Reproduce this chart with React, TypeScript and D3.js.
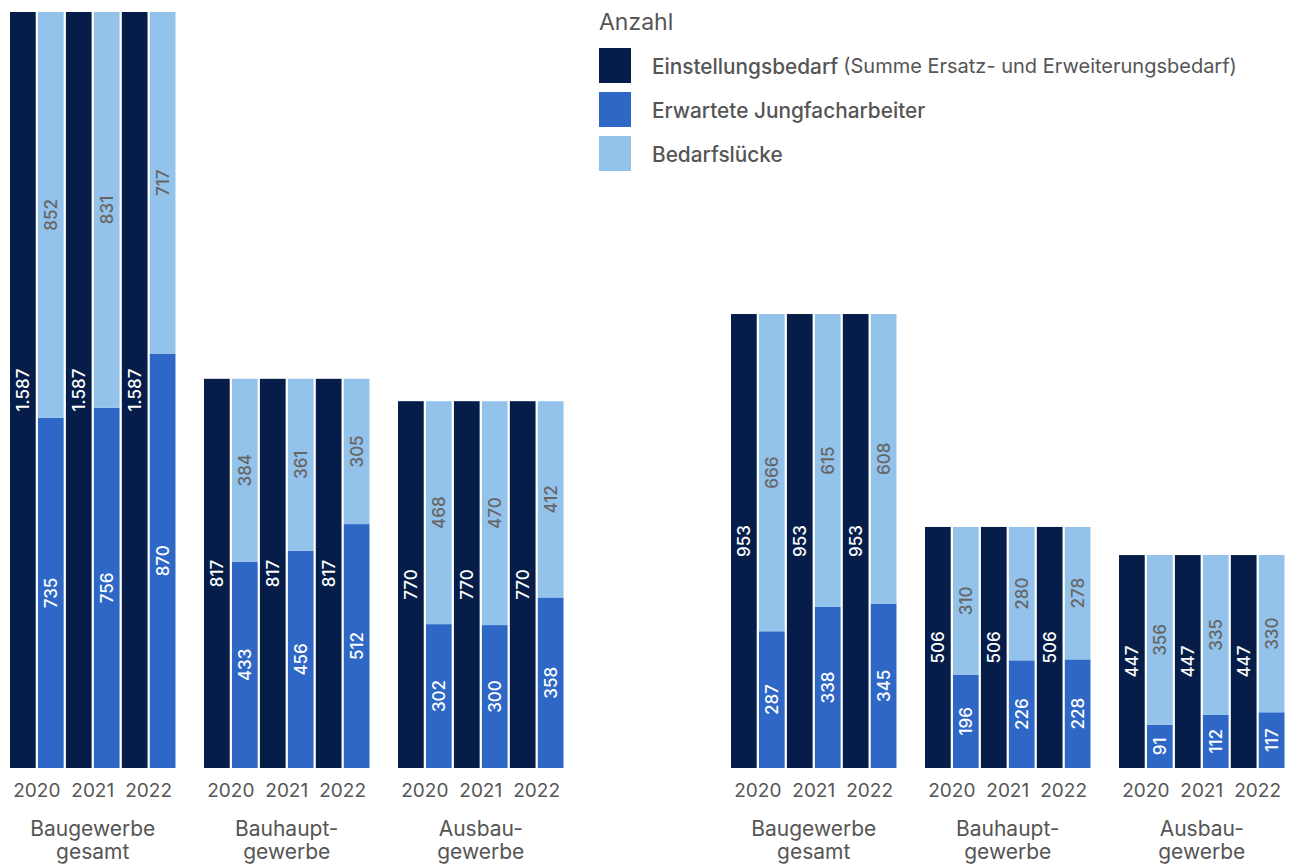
import React from "react";
import * as d3 from "d3";

const years = ["2020", "2021", "2022"];
const groupsLeft = ["Baugewerbe gesamt", "Bauhaupt- gewerbe", "Ausbau- gewerbe"];
const groupsRight = ["Baugewerbe gesamt", "Bauhaupt- gewerbe", "Ausbau- gewerbe"];

// Left panel
const leftBedarf = [[1587, 1587, 1587], [817, 817, 817], [770, 770, 770]];
const leftJung = [[735, 756, 870], [433, 456, 512], [302, 300, 358]];
const leftLuecke = [[852, 831, 717], [384, 361, 305], [468, 470, 412]];
// Right panel
const rightBedarf = [[953, 953, 953], [506, 506, 506], [447, 447, 447]];
const rightJung = [[287, 338, 345], [196, 226, 228], [91, 112, 117]];
const rightLuecke = [[666, 615, 608], [310, 280, 278], [356, 335, 330]];

const legendItems = ["Einstellungsbedarf", "Erwartete Jungfacharbeiter", "Bedarfslücke"];
const legendNote = "(Summe Ersatz- und Erweiterungsbedarf)";
const legendTitle = "Anzahl";

const C_DARK = "#061d49";
const C_MID = "#2e67c5";
const C_LIGHT = "#93c2ea";
const C_TEXT = "#555555";
const FONT = "Inter, 'Noto Sans', sans-serif";

const W = 1293;
const H = 865;

const fmt = d3.formatLocale({ decimal: ",", thousands: ".", grouping: [3], currency: ["", "€"] }).format(",d");

const y = d3.scaleLinear().domain([0, 1587]).range([768, 12]);

function Panel({ x0, groups, bedarf, jung, luecke }: any) {
  const gx = d3.scaleBand<number>().domain([0, 1, 2]).range([x0, x0 + 553.5]).paddingInner(0.147).paddingOuter(0);
  const bx = d3.scaleBand<number>().domain([0, 1, 2, 3, 4, 5]).range([0, gx.bandwidth()]).paddingInner(0.08).paddingOuter(0);
  const bw = bx.bandwidth();
  const lbl = (cx: number, cy: number, t: string, fill: string, key: string) => (
    <text key={key} transform={`translate(${cx},${cy}) rotate(-90)`} textAnchor="middle" dominantBaseline="central"
      fill={fill} fontSize={17} fontWeight={500} fontFamily={FONT}>{t}</text>
  );
  return (
    <g>
      {groups.map((g: string, gi: number) => {
        const gx0 = gx(gi)!;
        const parts = g.split(" ");
        return (
          <g key={gi}>
            {years.map((yr, yi) => {
              const dx = gx0 + bx(yi * 2)!;
              const lx = gx0 + bx(yi * 2 + 1)!;
              const tot = bedarf[gi][yi];
              const j = jung[gi][yi];
              const l = luecke[gi][yi];
              const yTot = y(tot);
              const yJ = y(j);
              const yL = y(j + l);
              return (
                <g key={yi}>
                  <rect x={dx} y={yTot} width={bw} height={y(0) - yTot} fill={C_DARK} />
                  <rect x={lx} y={yJ} width={bw} height={y(0) - yJ} fill={C_MID} />
                  <rect x={lx} y={yL} width={bw} height={yJ - yL} fill={C_LIGHT} />
                  {lbl(dx + bw / 2, (yTot + y(0)) / 2, fmt(tot), "#ffffff", "a")}
                  {lbl(lx + bw / 2, (yJ + y(0)) / 2, fmt(j), "#ffffff", "b")}
                  {lbl(lx + bw / 2, (yL + yJ) / 2, fmt(l), "#666666", "c")}
                  <text x={(dx + lx + bw) / 2} y={797} textAnchor="middle" fill={C_TEXT} fontSize={19}
                    fontWeight={400} fontFamily={FONT}>{yr}</text>
                </g>
              );
            })}
            <text x={gx0 + gx.bandwidth() / 2} y={836} textAnchor="middle" fill={C_TEXT} fontSize={21}
              fontWeight={400} fontFamily={FONT}>
              <tspan x={gx0 + gx.bandwidth() / 2}>{parts[0]}</tspan>
              <tspan x={gx0 + gx.bandwidth() / 2} dy={23}>{parts[1]}</tspan>
            </text>
          </g>
        );
      })}
    </g>
  );
}

export default function App() {
  const colors = [C_DARK, C_MID, C_LIGHT];
  return (
    <svg width={W} height={H} style={{ position: "absolute", left: 0, top: 0, background: "#fff" }}>
      <Panel x0={10} groups={groupsLeft} bedarf={leftBedarf} jung={leftJung} luecke={leftLuecke} />
      <Panel x0={731} groups={groupsRight} bedarf={rightBedarf} jung={rightJung} luecke={rightLuecke} />
      <g>
        <text x={599} y={30} fill={C_TEXT} fontSize={23} fontWeight={400} fontFamily={FONT}>{legendTitle}</text>
        {legendItems.map((t, i) => (
          <g key={i}>
            <rect x={599} y={48 + i * 44} width={32} height={35} fill={colors[i]} />
            <text x={652} y={66 + i * 44} dominantBaseline="central" fill={C_TEXT} fontSize={20.8} fontWeight={500}
              fontFamily={FONT}>
              {t}
              {i === 0 ? <tspan fontWeight={400} fontSize={20} dx={5}>{legendNote}</tspan> : null}
            </text>
          </g>
        ))}
      </g>
    </svg>
  );
}
